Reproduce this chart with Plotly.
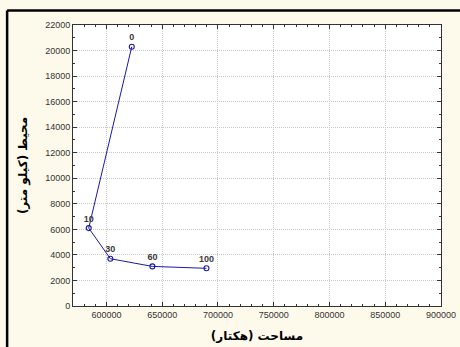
import plotly.graph_objects as go

# Area (hectare) vs perimeter (km) for each threshold level
levels = ["0", "10", "30", "60", "100"]
area_ha = [622700, 584100, 603500, 641200, 689700]
perimeter_km = [20300, 6100, 3700, 3100, 2950]

x_ticks = [600000, 650000, 700000, 750000, 800000, 850000, 900000]
y_ticks = [0, 2000, 4000, 6000, 8000, 10000, 12000, 14000, 16000, 18000, 20000, 22000]

navy = "#1a1aa8"
tick_font = dict(family="Arial, Liberation Sans, sans-serif", size=9, color="#333333")

fig = go.Figure(
    go.Scatter(
        x=area_ha,
        y=perimeter_km,
        mode="lines+markers+text",
        text=["<b>" + s + "</b>" for s in levels],
        textposition="top center",
        textfont=dict(family="Arial, Liberation Sans, sans-serif", size=9, color="#3a3a3a"),
        line=dict(color=navy, width=1),
        marker=dict(symbol="circle-open", size=5, color=navy, line=dict(width=1.1, color=navy)),
        cliponaxis=False,
        showlegend=False,
    )
)

axis_common = dict(
    automargin=False,
    showline=True,
    linecolor="#333333",
    linewidth=1,
    mirror="ticks",
    ticks="inside",
    ticklen=4,
    tickcolor="#333333",
    showgrid=True,
    gridcolor="#c8c8c8",
    griddash="1px,1px",
    gridwidth=1,
    zeroline=False,
    tickfont=tick_font,
    minor=dict(ticks="inside", ticklen=2, tickcolor="#333333", showgrid=False),
)

fig.update_xaxes(
    range=[570000, 900000],
    tickvals=x_ticks,
    ticktext=[str(v) for v in x_ticks],
    minor_dtick=10000,
    title=dict(text="<b>مساحت (هکتار)</b>", font=dict(family="DejaVu Sans, sans-serif", size=12, color="#000000"), standoff=12),
    **axis_common,
)
fig.update_yaxes(
    range=[0, 22000],
    tickvals=y_ticks,
    ticktext=[str(v) for v in y_ticks],
    minor_dtick=1000,
    title=dict(text="<b>محیط (کیلو متر)</b>", font=dict(family="DejaVu Sans, sans-serif", size=12, color="#000000"), standoff=14),
    **axis_common,
)

# Frame border along the top and left edges of the figure
fig.add_shape(type="line", xref="paper", yref="paper", x0=-0.179, x1=1.2, y0=1.052, y1=1.052,
              line=dict(color="#000000", width=2.5))
fig.add_shape(type="line", xref="paper", yref="paper", x0=-0.179, x1=-0.179, y0=1.052, y1=-0.3,
              line=dict(color="#000000", width=2.5))

fig.update_layout(
    width=460,
    height=347,
    margin=dict(l=73, r=19, t=25, b=41),
    paper_bgcolor="#fefaeb",
    plot_bgcolor="#ffffff",
)

fig.write_html("out.html")
